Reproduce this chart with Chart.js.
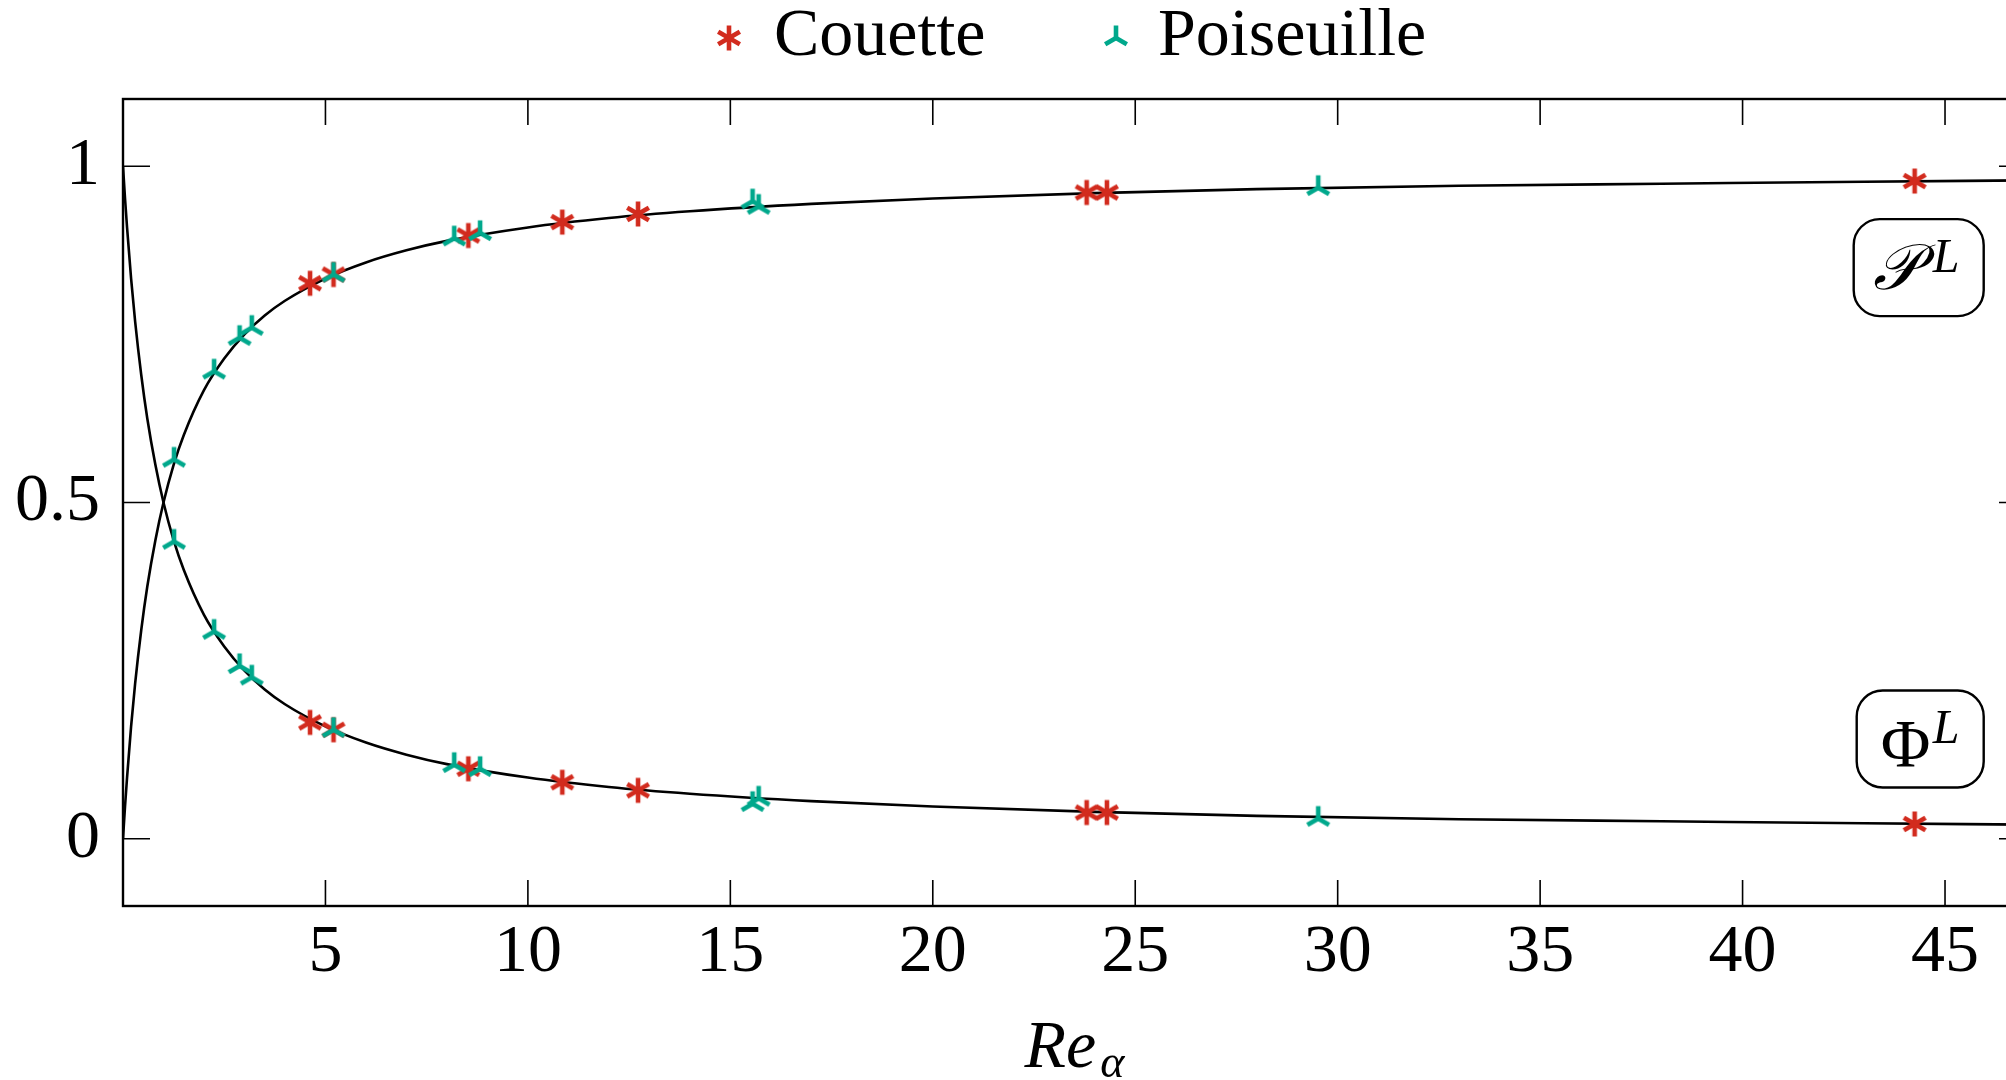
<!DOCTYPE html>
<html>
<head>
<meta charset="utf-8">
<script src="https://cdn.jsdelivr.net/npm/chart.js@4.4.0/dist/chart.umd.min.js"></script>
<style>
  html, body { margin: 0; padding: 0; background: #fff; overflow: hidden; }
  #wrap { width: 2040px; height: 1080px; }
</style>
</head>
<body>
<div id="wrap"><canvas id="grafico" width="2040" height="1080"></canvas></div>
<script>
// Datos
const reCouette  = [4.62, 5.2, 8.53, 10.85, 12.72, 23.8, 24.3, 44.25];
const pCouette   = [0.826, 0.839, 0.897, 0.917, 0.929, 0.961, 0.961, 0.978];
const phiCouette = [0.173, 0.162, 0.104, 0.084, 0.072, 0.039, 0.039, 0.022];

const rePoiseuille  = [1.26, 2.25, 2.88, 3.18, 5.2, 8.18, 8.82, 15.55, 15.7, 29.52];
const pPoiseuille   = [0.564, 0.695, 0.745, 0.760, 0.839, 0.893, 0.901, 0.948, 0.940, 0.968];
const phiPoiseuille = [0.442, 0.308, 0.257, 0.240, 0.162, 0.110, 0.104, 0.052, 0.060, 0.030];

// Curvas continuas (P^L y Phi^L)
const reCurve  = [0, 0.05, 0.1, 0.2, 0.3, 0.45, 0.6, 0.8, 1, 1.25, 1.5, 2, 2.5, 3, 3.5, 4, 5, 6, 7, 8, 10, 12, 14, 17, 20, 24, 28, 33, 38, 43, 47];
const pCurve   = [0, 0.048, 0.091, 0.167, 0.231, 0.310, 0.375, 0.444, 0.5, 0.556, 0.6, 0.667, 0.714, 0.75, 0.778, 0.8, 0.833, 0.857, 0.875, 0.889, 0.909, 0.923, 0.933, 0.944, 0.952, 0.96, 0.966, 0.971, 0.974, 0.977, 0.979];
const phiCurve = [1, 0.952, 0.909, 0.833, 0.769, 0.690, 0.625, 0.556, 0.5, 0.444, 0.4, 0.333, 0.286, 0.25, 0.222, 0.2, 0.167, 0.143, 0.125, 0.111, 0.091, 0.077, 0.067, 0.056, 0.048, 0.04, 0.034, 0.029, 0.026, 0.023, 0.021];

const xTicks = [5, 10, 15, 20, 25, 30, 35, 40, 45];
const yTicks = [0, 0.5, 1];
const seriesNames = ["Couette", "Poiseuille"];

const RED = "#d22b1e";
const TEAL = "#00a88c";
const SERIF = '"Liberation Serif", "DejaVu Serif", serif';

function zip(xs, ys) {
  return xs.map((x, i) => ({ x: x, y: ys[i] }));
}

// marcador asterisco de 6 brazos
function makeAsterisk(color) {
  const c = document.createElement("canvas");
  c.width = 32; c.height = 32;
  const g = c.getContext("2d");
  g.strokeStyle = color;
  g.lineWidth = 4.6;
  g.translate(16, 16);
  const r = 12.5;
  for (const a of [90, 30, 150]) {
    const t = a * Math.PI / 180;
    g.beginPath();
    g.moveTo(-r * Math.cos(t), -r * Math.sin(t));
    g.lineTo(r * Math.cos(t), r * Math.sin(t));
    g.stroke();
  }
  return c;
}

// marcador "Mercedes star flipped"
function makeTri(color) {
  const c = document.createElement("canvas");
  c.width = 32; c.height = 32;
  const g = c.getContext("2d");
  g.strokeStyle = color;
  g.lineWidth = 4.6;
  g.translate(16, 16);
  const r = 12.5;
  for (const a of [-90, 30, 150]) {
    const t = a * Math.PI / 180;
    g.beginPath();
    g.moveTo(0, 0);
    g.lineTo(r * Math.cos(t), r * Math.sin(t));
    g.stroke();
  }
  return c;
}

const starMark = makeAsterisk(RED);
const triMark = makeTri(TEAL);

function markerSet(label, data, mark) {
  return {
    label: label,
    data: data,
    pointStyle: mark,
    pointRadius: 12,
    showLine: false
  };
}

function curveSet(label, data) {
  return {
    label: label,
    data: data,
    showLine: true,
    pointRadius: 0,
    borderColor: "#000",
    borderWidth: 2.6,
    cubicInterpolationMode: "monotone",
    fill: false
  };
}

// marco, ticks hacia dentro, leyenda, titulo y cajas
const decoPlugin = {
  id: "deco",
  afterDraw(chart) {
    const g = chart.ctx;
    const a = chart.chartArea;
    const xs = chart.scales.x, ys = chart.scales.y;
    g.save();
    g.strokeStyle = "#000";
    g.lineWidth = 1.6;
    for (const v of xTicks) {
      const px = xs.getPixelForValue(v);
      g.beginPath();
      g.moveTo(px, a.bottom); g.lineTo(px, a.bottom - 26);
      g.moveTo(px, a.top); g.lineTo(px, a.top + 26);
      g.stroke();
    }
    for (const v of yTicks) {
      const py = ys.getPixelForValue(v);
      g.beginPath();
      g.moveTo(a.left, py); g.lineTo(a.left + 27, py);
      g.moveTo(a.right, py); g.lineTo(a.right - 27, py);
      g.stroke();
    }
    g.lineWidth = 2.4;
    g.strokeRect(a.left, a.top, a.right - a.left, a.bottom - a.top);

    // leyenda
    g.fillStyle = "#000";
    g.textBaseline = "alphabetic";
    g.font = "68px " + SERIF;
    g.drawImage(starMark, 729 - 16, 38 - 16);
    g.fillText(seriesNames[0], 774, 55);
    g.drawImage(triMark, 1116 - 16, 38 - 16);
    g.fillText(seriesNames[1], 1158, 55);

    // titulo eje x: Re_alpha
    g.font = "italic 68px " + SERIF;
    const wRe = g.measureText("Re").width;
    g.font = "italic 46px " + SERIF;
    const wAl = g.measureText("\u03b1").width;
    const cx = (a.left + a.right) / 2;
    const x0 = cx - (wRe + wAl + 4) / 2;
    g.font = "italic 68px " + SERIF;
    g.fillText("Re", x0, 1067);
    g.font = "italic 46px " + SERIF;
    g.fillText("\u03b1", x0 + wRe + 4, 1077);

    // cajas de etiquetas
    function box(x1, y1, x2, y2) {
      g.beginPath();
      g.roundRect(x1, y1, x2 - x1, y2 - y1, 26);
      g.fillStyle = "#fff";
      g.fill();
      g.lineWidth = 2.4;
      g.strokeStyle = "#000";
      g.stroke();
      g.fillStyle = "#000";
    }
    const bx = xs.getPixelForValue(44.35);
    const byP = ys.getPixelForValue(0.850);
    const byF = ys.getPixelForValue(0.149);
    box(bx - 65, byP - 48, bx + 65, byP + 49);
    box(bx - 62, byF - 48, bx + 65, byF + 49);
    g.font = "italic 64px " + SERIF;
    g.fillText("\ud835\udcab", bx - 46, byP + 22);
    g.font = "68px " + SERIF;
    g.fillText("\u03a6", bx - 38, byF + 27);
    g.font = "italic 48px " + SERIF;
    g.fillText("L", bx + 14, byP + 5);
    g.fillText("L", bx + 14, byF + 4);
    g.restore();
  }
};

const ctx = document.getElementById("grafico");
new Chart(ctx, {
  type: "scatter",
  data: {
    datasets: [
      markerSet(seriesNames[1], zip(rePoiseuille, pPoiseuille), triMark),
      markerSet(seriesNames[1], zip(rePoiseuille, phiPoiseuille), triMark),
      markerSet(seriesNames[0], zip(reCouette, pCouette), starMark),
      markerSet(seriesNames[0], zip(reCouette, phiCouette), starMark),
      curveSet("P", zip(reCurve, pCurve)),
      curveSet("Phi", zip(reCurve, phiCurve))
    ]
  },
  options: {
    responsive: false,
    animation: false,
    devicePixelRatio: 1,
    layout: { padding: { left: 0, top: 99, right: 14, bottom: 0 } },
    plugins: { legend: { display: false }, tooltip: { enabled: false } },
    scales: {
      x: {
        type: "linear", min: 0, max: 47,
        grid: { display: false, drawTicks: false },
        border: { display: false },
        ticks: { color: "#000", padding: 6, font: { family: SERIF, size: 68 } },
        afterBuildTicks: s => { s.ticks = xTicks.map(v => ({ value: v })); },
        afterFit: s => { s.height = 174; }
      },
      y: {
        type: "linear", min: -0.1, max: 1.1,
        grid: { display: false, drawTicks: false },
        border: { display: false },
        ticks: { color: "#000", padding: 23, font: { family: SERIF, size: 68 }, callback: v => String(v) },
        afterBuildTicks: s => { s.ticks = yTicks.map(v => ({ value: v })); },
        afterFit: s => { s.width = 123; }
      }
    }
  },
  plugins: [decoPlugin]
});
</script>
</body>
</html>
